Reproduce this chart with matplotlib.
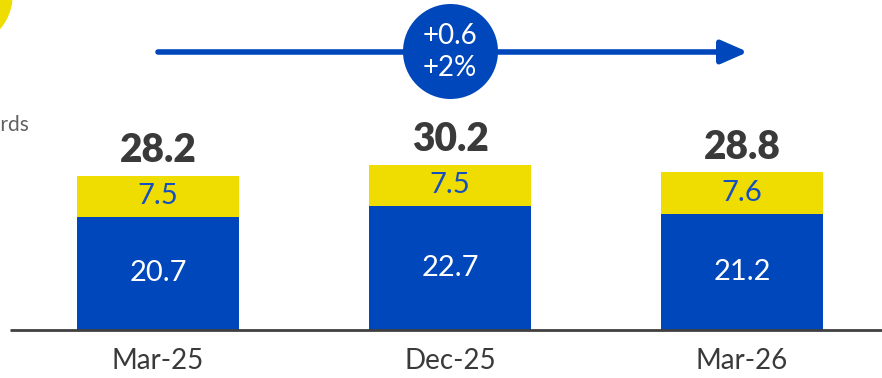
import matplotlib
matplotlib.use("Agg")
import matplotlib.pyplot as plt
from matplotlib.patches import Circle

# data
categories = ["Mar-25", "Dec-25", "Mar-26"]
base_vals = [20.7, 22.7, 21.2]
top_vals = [7.5, 7.5, 7.6]
totals = [28.2, 30.2, 28.8]
change_abs = "+0.6"
change_pct = "+2%"

BLUE = "#0047BB"
YELLOW = "#EFDC00"
DARK = "#3a3a3a"

plt.rcParams['font.family'] = ['Lato', 'DejaVu Sans']

fig = plt.figure(figsize=(8.82, 3.78), dpi=100)
ax = fig.add_axes([0, 0, 1, 1])
ax.set_xlim(-0.541, 2.479)
ax.set_ylim(-8.78, 60.3)
ax.axis("off")

x = range(len(categories))
width = 0.555
ax.bar(x, base_vals, width=width, color=BLUE, zorder=2)
ax.bar(x, top_vals, width=width, bottom=base_vals, color=YELLOW, zorder=2)

# baseline
ax.plot([-0.507, 2.479], [0, 0], color="#404040", lw=2, zorder=3, solid_capstyle="butt")

for i in x:
    ax.text(i, base_vals[i] / 2, f"{base_vals[i]:.1f}", ha="center", va="center",
            color="white", fontsize=21)
    ax.text(i, base_vals[i] + top_vals[i] / 2, f"{top_vals[i]:.1f}", ha="center",
            va="center", color="#1550C0", fontsize=21)
    ax.text(i, totals[i] + 4.6, f"{totals[i]:.1f}", ha="center", va="center",
            color=DARK, fontsize=28, fontweight="heavy")
    ax.text(i, -5.6, categories[i], ha="center", va="center", color=DARK,
            fontsize=20)

# growth arrow with bubble
ax.annotate("", xy=(2.02, 50.8), xytext=(0, 50.8),
            arrowprops=dict(arrowstyle="-|>,head_length=0.8,head_width=0.35",
                            lw=4, color=BLUE, mutation_scale=20,
                            shrinkA=0, shrinkB=0))
ax.scatter([1.0], [51.0], s=4680, color=BLUE, zorder=5, linewidths=0)
ax.text(1.0, 53.8, change_abs, ha="center", va="center", color="white",
        fontsize=20, zorder=6)
ax.text(1.0, 47.8, change_pct, ha="center", va="center", color="white",
        fontsize=20, zorder=6)

# cropped decorations from the slide
fig.patches.append(Circle((-0.40, 3.83), 0.52, transform=fig.dpi_scale_trans,
                          color=YELLOW, zorder=10))
fig.text(29 / 882, 1 - 125 / 378, "records", ha="right", va="center",
         color="#606060", fontsize=15)

fig.savefig("out.png", dpi=100)
